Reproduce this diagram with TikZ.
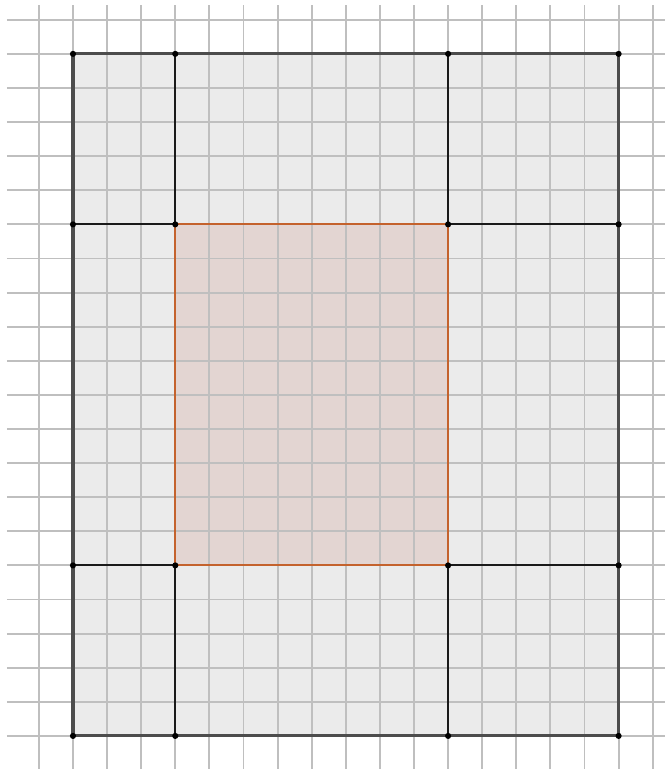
\documentclass[tikz,border=0pt]{standalone}
\usepackage{tkz-euclide}
\definecolor{fillgray}{HTML}{EBEBEB}
\definecolor{fillrose}{HTML}{E3D5D2}
\definecolor{gridgray}{HTML}{BFBFBF}
\definecolor{rimorange}{HTML}{C4622D}
\tikzset{gridline/.style={draw=gridgray,line width=1.6pt},
  rimline/.style={draw=black!70,line width=2.6pt},
  cutline/.style={draw=black!90,line width=1.7pt},
  innerline/.style={draw=rimorange,line width=1.7pt}}

\begin{document}
\begin{tikzpicture}
\useasboundingbox (-2.14,-0.97) rectangle (17.36,21.58);
\tkzDefPoints{0/20/a1, 3/20/b1, 11/20/c1, 16/20/d1,
  0/15/a2, 3/15/b2, 11/15/c2, 16/15/d2,
  0/5/a3, 3/5/b3, 11/5/c3, 16/5/d3,
  0/0/a4, 3/0/b4, 11/0/c4, 16/0/d4}
\fill[fillgray] (a1) rectangle (d4);
\fill[fillrose] (b2) rectangle (c3);
% squared paper
\draw[gridline,step=1] (-1.94,-1.02) grid (17.4,21.42);
% cuts at the corners
\draw[cutline] (b1) -- (b2) (c1) -- (c2) (a2) -- (b2) (c2) -- (d2)
  (a3) -- (b3) (c3) -- (d3) (b3) -- (b4) (c3) -- (c4);
\draw[innerline] (b2) rectangle (c3);
\draw[rimline] (a1) rectangle (d4);
\foreach \p in {a1,b1,c1,d1,a2,b2,c2,d2,a3,b3,c3,d3,a4,b4,c4,d4}
  \fill (\p) circle (0.09);
\end{tikzpicture}
\end{document}
